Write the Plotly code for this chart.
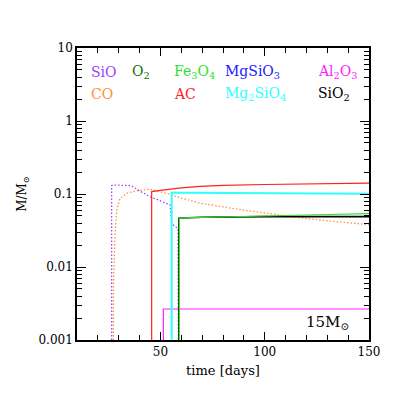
import plotly.graph_objects as go

# masa de cada especie (M/Msun) frente al tiempo (dias)
sio_t = [26.6, 26.6, 27.2, 28, 30, 33, 36, 39.4, 42, 45, 48, 52, 54.6, 55.4, 57, 58.4, 58.6]
sio_m = [0.001, 0.13, 0.133, 0.133, 0.133, 0.133, 0.13, 0.113, 0.102, 0.092, 0.085, 0.077, 0.071, 0.040, 0.0356, 0.034, 0.001]

co_t = [27.4, 27.5, 28.2, 29, 30.6, 33.8, 38.6, 45, 53, 60, 69, 80, 90, 100, 115, 130, 150]
co_m = [0.001, 0.006, 0.026, 0.06, 0.087, 0.102, 0.111, 0.116, 0.102, 0.088, 0.075, 0.066, 0.06, 0.055, 0.048, 0.043, 0.038]

ac_t = [45.8, 45.8, 50, 55, 60, 69, 80, 100, 125, 150]
ac_m = [0.001, 0.108, 0.112, 0.117, 0.121, 0.127, 0.131, 0.135, 0.138, 0.141]

mg2sio4_t = [55.4, 55.4, 60, 100, 150]
mg2sio4_m = [0.001, 0.104, 0.104, 0.103, 0.101]

sio2_t = [58.9, 58.9, 60, 70, 100, 150]
sio2_m = [0.001, 0.0465, 0.047, 0.048, 0.049, 0.049]

fe3o4_t = [59.1, 59.1, 60, 70, 100, 125, 150]
fe3o4_m = [0.001, 0.046, 0.047, 0.048, 0.05, 0.052, 0.054]

al2o3_t = [51.4, 51.4, 150]
al2o3_m = [0.001, 0.00266, 0.00266]

y_ticks = [0.001, 0.01, 0.1, 1, 10]
y_labels = ['0.001', '0.01', '0.1', '1', '10']
y_minor = [k * 10 ** e for e in range(-3, 1) for k in range(2, 10)]

fuente = 'DejaVu Serif'
punteado = '1.5px,2px'

fig = go.Figure()

# (tiempo, masa, color, ancho, estilo)
curvas = [
    (co_t, co_m, '#ff9040', 1.3, punteado),
    (sio_t, sio_m, '#a040ff', 1.3, punteado),
    (ac_t, ac_m, '#ff2020', 1.2, 'solid'),
    (al2o3_t, al2o3_m, '#ff20ff', 1.2, 'solid'),
    (mg2sio4_t, mg2sio4_m, '#30ffff', 2, 'solid'),
    (sio2_t, sio2_m, 'black', 1.6, 'solid'),
    (fe3o4_t, fe3o4_m, '#30e030', 1.2, 'solid'),
]
for t, m, c, w, d in curvas:
    fig.add_trace(go.Scatter(x=t, y=m, mode='lines',
                             line=dict(color=c, width=w, dash=d)))

# etiquetas de las especies
fila1, fila2 = 0.918, 0.842
etiquetas = [
    ('SiO', '#a040ff', 0.04, fila1),
    ('O<sub>2</sub>', '#107010', 0.18, fila1),
    ('Fe<sub>3</sub>O<sub>4</sub>', '#30e030', 0.325, fila1),
    ('MgSiO<sub>3</sub>', '#2020ff', 0.5, fila1),
    ('Al<sub>2</sub>O<sub>3</sub>', '#ff20ff', 0.818, fila1),
    ('CO', '#ff9040', 0.04, fila2),
    ('AC', '#ff2020', 0.325, fila2),
    ('Mg<sub>2</sub>SiO<sub>4</sub>', '#30ffff', 0.5, fila2),
    ('SiO<sub>2</sub>', 'black', 0.818, fila2),
]
for txt, c, x, y in etiquetas:
    fig.add_annotation(text=txt, x=x, y=y, xref='paper', yref='paper',
                       xanchor='left', yanchor='middle', showarrow=False,
                       font=dict(family=fuente, size=14, color=c))

fig.add_annotation(text='15M<sub>⊙</sub>', x=0.94, y=0.06, xref='paper', yref='paper',
                   xanchor='right', yanchor='middle', showarrow=False,
                   font=dict(family=fuente, size=15, color='black'))

ejes = dict(showline=True, linecolor='black', linewidth=1.5, mirror='ticks',
            ticks='inside', tickcolor='black', showgrid=False, zeroline=False,
            tickfont=dict(family=fuente, size=12, color='black'))

fig.update_xaxes(range=[10, 150], tickvals=[50, 100, 150], ticklen=8,
                 minor=dict(ticks='inside', ticklen=5, dtick=10, tickcolor='black', showgrid=False),
                 title=dict(text='time [days]', font=dict(family=fuente, size=13, color='black'),
                            standoff=8),
                 **ejes)
fig.update_yaxes(type='log', range=[-3, 1], tickvals=y_ticks, ticktext=y_labels, ticklen=9,
                 minor=dict(ticks='inside', ticklen=5, tickvals=y_minor, tickcolor='black', showgrid=False),
                 title=dict(text='M/M<sub>⊙</sub>', font=dict(family=fuente, size=12, color='black'),
                            standoff=9),
                 **ejes)

fig.update_layout(width=417, height=417, showlegend=False,
                  margin=dict(l=69, r=56, t=40, b=85),
                  plot_bgcolor='white', paper_bgcolor='white')

fig.write_html("out.html")
